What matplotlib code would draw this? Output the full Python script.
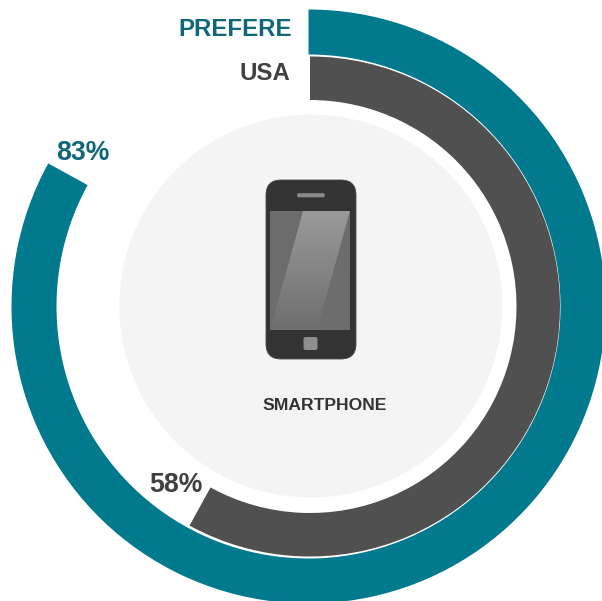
import matplotlib
matplotlib.use("Agg")
import matplotlib.pyplot as plt
import numpy as np
from matplotlib.patches import Wedge, Circle, FancyBboxPatch, Polygon
from matplotlib.colors import LinearSegmentedColormap

plt.rcParams['font.family'] = ['Liberation Sans', 'DejaVu Sans']

# Share of respondents for each ring
series_names = ["PREFERE", "USA"]
series_values = [83, 58]
series_colors = ["#007A8C", "#505050"]
text_colors = ["#10677A", "#404040"]
category = "SMARTPHONE"

W, H = 602, 601
fig = plt.figure(figsize=(W / 100, H / 100), dpi=100)
ax = fig.add_axes([0, 0, 1, 1])
ax.set_xlim(0, W)
ax.set_ylim(0, H)
ax.axis("off")


def Y(py):
    """Convert a top-down canvas row to the axes' bottom-up coordinate."""
    return H - py


def sweep(value):
    return 90 - 360 * value / 100


# Central disc
ax.add_patch(Circle((310.8, Y(306)), 191.5, fc="#F4F4F4", ec="none", zorder=1))

# Rings, both running clockwise from twelve o'clock
ax.add_patch(Wedge((308.5, Y(306.5)), 297, sweep(series_values[0]), 90, width=45,
                   fc=series_colors[0], ec="none", zorder=2))
ax.add_patch(Wedge((310, Y(306.5)), 250, sweep(series_values[1]), 90, width=43.5,
                   fc=series_colors[1], ec="none", zorder=3))

# Series names and values
ax.text(291.5, Y(30), series_names[0], ha="right", va="center", fontsize=17.3,
        fontweight="bold", color=text_colors[0], zorder=5)
ax.text(290.5, Y(73), series_names[1], ha="right", va="center", fontsize=17.3,
        fontweight="bold", color=text_colors[1], zorder=5)
ax.text(82.5, Y(152.5), f"{series_values[0]}%", ha="center", va="center", fontsize=19.2,
        fontweight="bold", color=text_colors[0], zorder=5)
ax.text(175.5, Y(484.5), f"{series_values[1]}%", ha="center", va="center", fontsize=19.2,
        fontweight="bold", color=text_colors[1], zorder=5)
ax.text(324.5, Y(405), category, ha="center", va="center", fontsize=12.6,
        fontweight="bold", color="#333333", zorder=5)

# Phone icon
ax.add_patch(FancyBboxPatch((266 + 15, Y(359) + 15), 90 - 30, 179 - 30,
                            boxstyle="round,pad=15,rounding_size=15",
                            fc="#333333", ec="#4A4A4A", lw=0.6, zorder=6))
ax.add_patch(FancyBboxPatch((298, Y(196.5)), 26, 2.5, boxstyle="round,pad=0.8,rounding_size=1.5",
                            fc="#8A8A8A", ec="none", zorder=7))
ax.add_patch(FancyBboxPatch((304.5, Y(349)), 12, 11, boxstyle="round,pad=1,rounding_size=2",
                            fc="#8E8E8E", ec="none", zorder=7))

# Screen and its glossy band
ramp = np.linspace(0, 1, 256).reshape(-1, 1)
screen_cmap = LinearSegmentedColormap.from_list("screen", ["#6C6C6C", "#6E6E6E"])
gloss_cmap = LinearSegmentedColormap.from_list("gloss", ["#9A9A9A", "#6E6E6E"])
extent = (270, 350, Y(330), Y(211))
ax.imshow(ramp, cmap=screen_cmap, extent=extent, aspect="auto", zorder=7, origin="upper")
band = ax.imshow(ramp, cmap=gloss_cmap, extent=extent, aspect="auto", zorder=8, origin="upper")
band_shape = Polygon([(303, Y(211)), (350, Y(211)), (317, Y(330)), (270, Y(330))],
                     closed=True, transform=ax.transData, fc="none", ec="none")
ax.add_patch(band_shape)
band.set_clip_path(band_shape)
ax.set_xlim(0, W)
ax.set_ylim(0, H)

fig.savefig("out.png", dpi=100, facecolor="white")
